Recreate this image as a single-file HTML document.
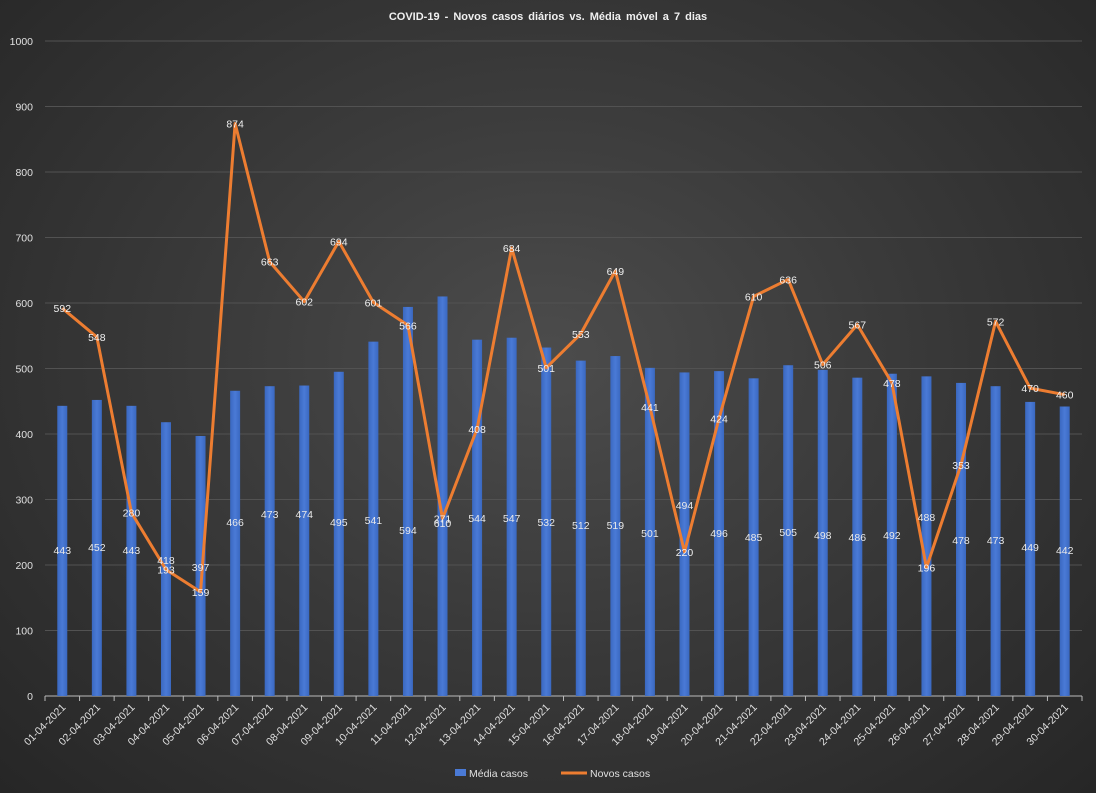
<!DOCTYPE html>
<html><head><meta charset="utf-8"><style>
body{margin:0;width:1096px;height:793px;overflow:hidden;background:radial-gradient(ellipse at 50% 45%,#4c4c4c 0%,#3a3a3a 45%,#262626 100%);}
svg{position:absolute;left:0;top:0;font-family:"Liberation Sans",sans-serif;}
</style></head><body>
<svg width="1096" height="793" id="s">
<defs><linearGradient id="bg" x1="0" x2="1"><stop offset="0" stop-color="#3a68c0"/><stop offset="0.5" stop-color="#4a7ad6"/><stop offset="1" stop-color="#3a68c0"/></linearGradient></defs>
<text x="548" y="20" fill="#f0f0f0" font-size="11" font-weight="bold" text-anchor="middle" word-spacing="2">COVID-19  - Novos casos diários  vs. Média  móvel  a 7 dias</text>
<g id="g"></g>
</svg>
<script>
const bars=[443,452,443,418,397,466,473,474,495,541,594,610,544,547,532,512,519,501,494,496,485,505,498,486,492,488,478,473,449,442];
const line=[592,548,280,193,159,874,663,602,694,601,566,271,408,684,501,553,649,441,220,424,610,636,506,567,478,196,353,572,470,460];
const by=[550,547,550,560,567,522,514,514,522,520,530,523,518,518,522,525,525,533,505,533,537,532,535,537,535,517,540,540,547,550];
const X0=45,X1=1082,Y0=696,K=0.655,W=(X1-X0)/30;
let h='';
for(let v=0;v<=1000;v+=100){const y=Y0-v*K;
 if(v>0)h+=`<line x1="${X0}" x2="${X1}" y1="${y}" y2="${y}" stroke="#525252" stroke-width="1"/>`;
 h+=`<text x="33" y="${y+4}" fill="#e0e0e0" font-size="10.5" text-anchor="end">${v}</text>`;}
h+=`<line x1="${X0}" x2="${X1}" y1="${Y0}" y2="${Y0}" stroke="#bbb"/>`;
for(let i=0;i<=30;i++){const x=X0+i*W;h+=`<line x1="${x}" x2="${x}" y1="${Y0}" y2="${Y0+5}" stroke="#bbb"/>`;}
let pts=[];
for(let i=0;i<30;i++){const c=X0+(i+.5)*W;
 h+=`<rect x="${c-5}" y="${Y0-bars[i]*K}" width="10" height="${bars[i]*K}" fill="url(#bg)"/>`;
 pts.push(c+','+(Y0-line[i]*K));
 const d=String(i+1).padStart(2,'0')+'-04-2021';
 h+=`<text transform="translate(${c+4},${Y0+12}) rotate(-45)" fill="#e0e0e0" font-size="10.5" text-anchor="end">${d}</text>`;}
h+=`<polyline points="${pts.join(' ')}" fill="none" stroke="#ED7D31" stroke-width="3" stroke-linejoin="round"/>`;
for(let i=0;i<30;i++){const c=X0+(i+.5)*W;
 h+=`<text x="${c}" y="${by[i]+4}" fill="#e8e8e8" font-size="10.5" text-anchor="middle">${bars[i]}</text>`;
 h+=`<text x="${c}" y="${Y0-line[i]*K+4}" fill="#f0f0f0" font-size="10.5" text-anchor="middle">${line[i]}</text>`;}
h+=`<rect x="455" y="769" width="11" height="7" fill="#4a7ad6"/><text x="469" y="777" fill="#e0e0e0" font-size="10.5">Média casos</text>`;
h+=`<line x1="561" x2="587" y1="773" y2="773" stroke="#ED7D31" stroke-width="3"/><text x="590" y="777" fill="#e0e0e0" font-size="10.5">Novos casos</text>`;
document.getElementById('g').innerHTML=h;
</script>
</body></html>
